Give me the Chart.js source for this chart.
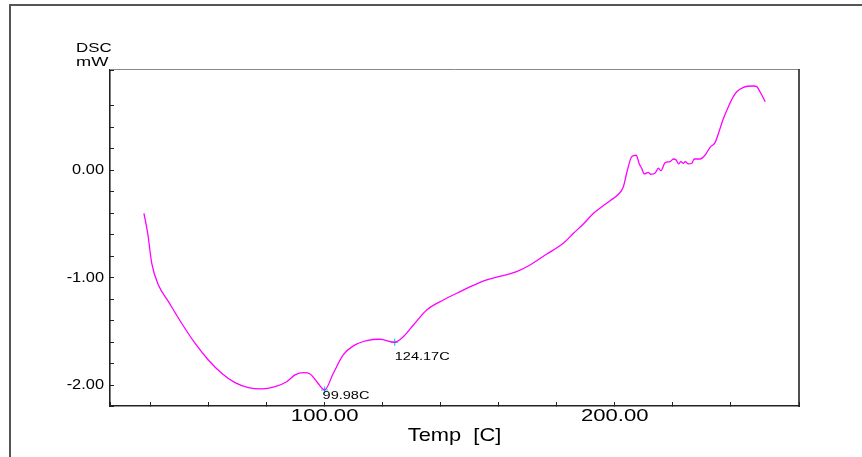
<!DOCTYPE html>
<html>
<head>
<meta charset="utf-8">
<script src="https://cdn.jsdelivr.net/npm/chart.js@4.4.1/dist/chart.umd.min.js"></script>
<style>
  html, body { margin: 0; overflow: hidden; background: #fff; }
  #frame { position: absolute; left: 9px; top: 4px; width: 900px; height: 500px;
           border-top: 2px solid #555; border-left: 2px solid #555; }
  #wrap { position: absolute; left: 0; top: 0; width: 862px; height: 457px; }
</style>
</head>
<body>
<div id="frame"></div>
<div id="wrap"><canvas id="dscChart"></canvas></div>
<script>
// DSC curve
const temps = [37.7, 39.0, 40.4, 42.7, 46.1, 50.7, 55.3, 59.9, 64.5, 69.1, 73.7, 78.3, 82.9, 86.9,
  89.8, 92.7, 95.0, 97.3, 99.98, 103.0, 106.4, 109.9, 114.5, 119.1, 124.17, 127.1, 130.6, 135.2,
  140.9, 146.7, 153.6, 159.3, 166.2, 170.8, 176.6, 182.3, 185.8, 189.2, 192.7, 195.6, 198.4,
  201.3, 203.0, 204.4, 205.9, 207.4, 208.5, 209.3, 210.2, 211.6, 212.4, 213.9, 215.1, 215.9,
  217.4, 219.1, 220.2, 221.2, 222.0, 222.8, 223.7, 224.3, 225.4, 226.6, 227.4, 229.4, 231.2,
  232.9, 234.6, 235.8, 237.3, 239.2, 240.9, 242.1, 244.4, 247.8, 249.0, 250.1, 251.9];
const dscValues = [-0.40, -0.586, -0.865, -1.067, -1.220, -1.423, -1.609, -1.765, -1.888, -1.976,
  -2.022, -2.034, -2.013, -1.967, -1.904, -1.883, -1.895, -1.967, -2.044, -1.888, -1.718, -1.634,
  -1.585, -1.572, -1.600, -1.548, -1.439, -1.300, -1.207, -1.129, -1.042, -0.995, -0.943, -0.881,
  -0.779, -0.679, -0.586, -0.500, -0.400, -0.339, -0.283, -0.223, -0.153, 0.003, 0.127, 0.140,
  0.059, 0.019, -0.034, -0.019, -0.037, -0.028, 0.019, -0.004, 0.071, 0.080, 0.105, 0.096, 0.059,
  0.080, 0.065, 0.080, 0.059, 0.065, 0.105, 0.105, 0.142, 0.214, 0.257, 0.344, 0.468, 0.592,
  0.685, 0.731, 0.772, 0.784, 0.778, 0.731, 0.638];

const peakTemps = [99.98, 124.17];
const peakValues = [-2.044, -1.600];
const peakLabels = ['99.98C', '124.17C'];

const xMajorTicks = [100, 200];
const yMajorTicks = [-2, -1, 0];

const isMajor = (v, list) => list.some(m => Math.abs(v - m) < 1e-6);

const FONT = '"Liberation Sans", Arial, sans-serif';

// the original print has horizontally stretched lettering
const stretch = {
    x: { drawLabels: 1.3, drawTitle: 1.15 },
    y: { drawLabels: 1.17 }
};

function wideText(ctx, txt, x, y, sx) {
    ctx.save();
    ctx.translate(x, y);
    ctx.scale(sx, 1);
    ctx.fillText(txt, 0, 0);
    ctx.restore();
}

const dscPlugin = {
    id: 'dscExtras',
    beforeDraw(chart) {
        const ctx = chart.ctx;
        Object.keys(stretch).forEach(id => {
            const scale = chart.scales[id];
            if (!scale || scale._stretched) return;
            Object.keys(stretch[id]).forEach(fn => {
                const orig = scale[fn];
                const sx = stretch[id][fn];
                scale[fn] = function (...args) {
                    // chart.js calls rotate() right after moving to each label
                    ctx.rotate = function (a) {
                        CanvasRenderingContext2D.prototype.rotate.call(ctx, a);
                        ctx.scale(sx, 1);
                    };
                    orig.apply(this, args);
                    delete ctx.rotate;
                };
            });
            scale._stretched = true;
        });
    },
    afterDraw(chart) {
        const {ctx, chartArea, scales} = chart;
        ctx.save();
        // frame around plot (top grey, right dark)
        ctx.strokeStyle = '#888';
        ctx.lineWidth = 1;
        ctx.beginPath();
        ctx.moveTo(chartArea.left, chartArea.top - 0.5);
        ctx.lineTo(chartArea.right, chartArea.top - 0.5);
        ctx.stroke();
        ctx.strokeStyle = '#222';
        ctx.lineWidth = 1.6;
        ctx.beginPath();
        ctx.moveTo(chartArea.right, chartArea.top - 1);
        ctx.lineTo(chartArea.right, chartArea.bottom + 1);
        ctx.stroke();

        // axis unit label
        ctx.fillStyle = '#000';
        ctx.font = '13px ' + FONT;
        ctx.textAlign = 'left';
        ctx.textBaseline = 'alphabetic';
        wideText(ctx, 'DSC', 76, 52, 1.3);
        wideText(ctx, 'mW', 76, 65.5, 1.4);

        // peak labels
        const offsets = [[-2, 6], [0, 15]];
        ctx.font = '11px ' + FONT;
        ctx.textBaseline = 'middle';
        peakLabels.forEach((txt, i) => {
            const px = scales.x.getPixelForValue(peakTemps[i]);
            const py = scales.y.getPixelForValue(peakValues[i]);
            wideText(ctx, txt, px + offsets[i][0], py + offsets[i][1], 1.32);
        });
        ctx.restore();
    }
};

const canvas = document.getElementById('dscChart');

new Chart(canvas.getContext('2d'), {
    type: 'line',
    data: {
        datasets: [{
            label: 'DSC',
            data: temps.map((t, i) => ({x: t, y: dscValues[i]})),
            borderColor: '#ff00ff',
            borderWidth: 1.3,
            pointRadius: 0,
            cubicInterpolationMode: 'monotone',
            fill: false
        }, {
            label: 'Peaks',
            data: peakTemps.map((t, i) => ({x: t, y: peakValues[i]})),
            showLine: false,
            pointStyle: 'cross',
            pointRadius: 3.5,
            borderColor: '#00d8e8',
            borderWidth: 1.2
        }]
    },
    options: {
        responsive: true,
        maintainAspectRatio: false,
        animation: false,
        layout: { padding: { top: 70, right: 63, bottom: 0, left: 0 } },
        plugins: {
            legend: { display: false },
            tooltip: { enabled: false }
        },
        scales: {
            x: {
                type: 'linear',
                min: 26,
                max: 263.55,
                afterFit: s => { s.height = 51; },
                border: { display: true, color: '#222', width: 1.6 },
                grid: { drawOnChartArea: false, drawTicks: true, tickLength: -4, color: '#222', lineWidth: 1 },
                ticks: {
                    stepSize: 20,
                    autoSkip: false,
                    maxRotation: 0,
                    padding: 4,
                    color: '#000',
                    font: { size: 17, family: FONT },
                    callback: v => isMajor(v, xMajorTicks) ? v.toFixed(2) : ''
                },
                title: {
                    display: true,
                    text: 'Temp  [C]',
                    color: '#000',
                    padding: { top: 0, bottom: 10 },
                    font: { size: 19, family: FONT }
                }
            },
            y: {
                min: -2.193,
                max: 0.933,
                afterFit: s => { s.width = 110; },
                border: { display: true, color: '#222', width: 1.6 },
                grid: { drawOnChartArea: false, drawTicks: true, tickLength: -4, color: '#222', lineWidth: 1 },
                ticks: {
                    stepSize: 0.2,
                    autoSkip: false,
                    padding: 10,
                    color: '#000',
                    font: { size: 14, family: FONT },
                    callback: v => isMajor(v, yMajorTicks) ? v.toFixed(2) : ''
                }
            }
        }
    },
    plugins: [dscPlugin]
});
</script>
</body>
</html>
